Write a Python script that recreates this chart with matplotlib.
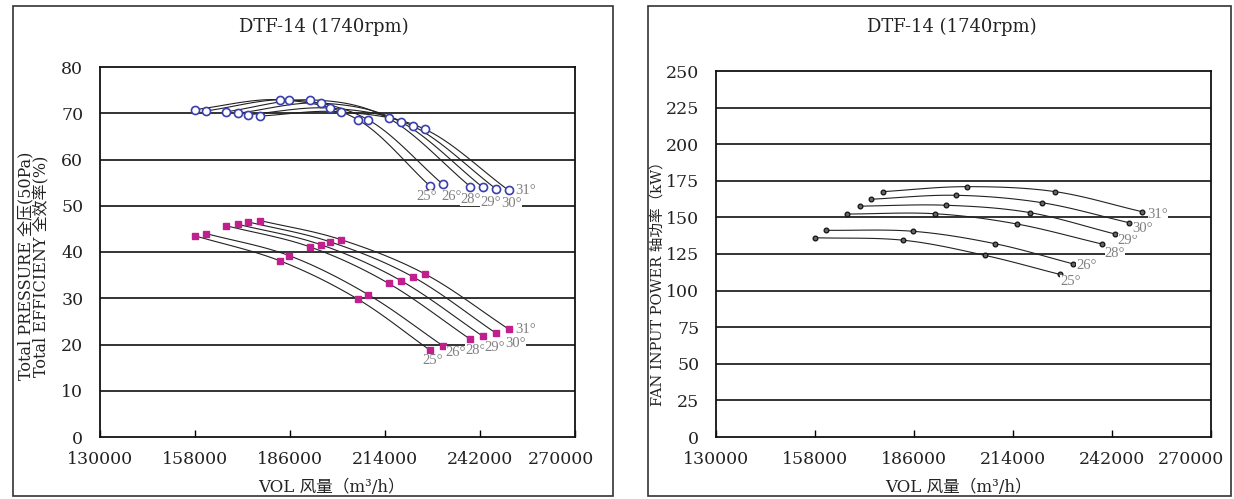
import numpy as np
import matplotlib
matplotlib.use("Agg")
import matplotlib.pyplot as plt
from matplotlib.patches import Rectangle
from matplotlib.transforms import ScaledTranslation

# ---------------- data ----------------
angles = ["25°", "26°", "28°", "29°", "30°", "31°"]
flow = {
    "25°": [158000, 183000, 206000, 227200],
    "26°": [161200, 185800, 209000, 231100],
    "28°": [167100, 191900, 215100, 239200],
    "29°": [170600, 195000, 218700, 242800],
    "30°": [173700, 197800, 222300, 246800],
    "31°": [177200, 200900, 225900, 250500],
}
efficiency = {
    "25°": [70.8, 72.9, 68.6, 54.3],
    "26°": [70.5, 72.9, 68.6, 54.6],
    "28°": [70.3, 72.9, 68.9, 54.1],
    "29°": [70.0, 72.2, 68.1, 54.0],
    "30°": [69.7, 71.1, 67.2, 53.6],
    "31°": [69.4, 70.3, 66.5, 53.3],
}
pressure = {
    "25°": [43.5, 38.1, 29.8, 18.8],
    "26°": [44.0, 39.2, 30.8, 19.7],
    "28°": [45.7, 41.1, 33.2, 21.1],
    "29°": [46.0, 41.6, 33.8, 21.8],
    "30°": [46.5, 42.2, 34.6, 22.4],
    "31°": [46.8, 42.7, 35.2, 23.3],
}
power = {
    "25°": [136.1, 134.4, 124.1, 111.1],
    "26°": [141.2, 140.5, 132.0, 118.2],
    "28°": [152.3, 152.5, 145.5, 131.8],
    "29°": [157.7, 158.3, 153.3, 138.7],
    "30°": [162.4, 165.1, 160.0, 146.4],
    "31°": [167.6, 171.0, 167.6, 153.9],
}
x_ticks = [130000, 158000, 186000, 214000, 242000, 270000]
left_yticks = list(range(0, 81, 10))
right_yticks = list(range(0, 251, 25))
title = "DTF-14 (1740rpm)"
xlabel = "VOL 风量（m³/h）"
left_ylabel1 = "Total PRESSURE 全压(50Pa)"
left_ylabel2 = "Total EFFICIENY 全效率(%)"
right_ylabel = "FAN INPUT POWER 轴功率（kW）"

# label offsets in pixels (dx, dy) relative to the last point of each curve
eff_off = {"25°": (-3, -11), "26°": (9, -12), "28°": (0, -13), "29°": (8, -15), "30°": (15, -14), "31°": (17, 0)}
prs_off = {"25°": (3, -10), "26°": (13, -7), "28°": (5, -11), "29°": (12, -11), "30°": (19, -10), "31°": (17, 0)}
pwr_off = {"25°": (11, -7), "26°": (13, -2), "28°": (13, -9), "29°": (13, -7), "30°": (14, -6), "31°": (16, -3)}

FAM = ["DejaVu Serif", "Noto Sans CJK SC"]
TXT = "#222222"
LBL = "#808080"


def smooth(ax, xs, ys, n=30):
    """Catmull-Rom rendering through the data points, done in display space."""
    pts = ax.transData.transform(np.column_stack([xs, ys]))
    p = np.vstack([2 * pts[0] - pts[1], pts, 2 * pts[-1] - pts[-2]])
    out = []
    for i in range(1, len(p) - 2):
        p0, p1, p2, p3 = p[i - 1], p[i], p[i + 1], p[i + 2]
        t = np.linspace(0, 1, n)[:, None]
        c = 0.5 * ((2 * p1) + (-p0 + p2) * t + (2 * p0 - 5 * p1 + 4 * p2 - p3) * t ** 2
                   + (-p0 + 3 * p1 - 3 * p2 + p3) * t ** 3)
        out.append(c if i == 1 else c[1:])
    out = np.vstack(out)
    return ax.transData.inverted().transform(out)


fig = plt.figure(figsize=(12.34, 4.99), dpi=100)

# panel frames
for (x0, y0, x1, y1) in [(13, 6, 613, 496), (648, 6, 1231, 496)]:
    fig.patches.append(Rectangle((x0 / 1234, 1 - y1 / 499), (x1 - x0) / 1234, (y1 - y0) / 499,
                                 transform=fig.transFigure, fill=False, edgecolor="#333333", lw=1.2))

axL = fig.add_axes([100 / 1234, 1 - 437 / 499, 475 / 1234, 370 / 499])
axR = fig.add_axes([716 / 1234, 1 - 437 / 499, 495 / 1234, 366 / 499])


def style(ax, yticks, last_shift):
    ax.set_xlim(x_ticks[0], x_ticks[-1])
    ax.set_ylim(yticks[0], yticks[-1])
    ax.set_xticks(x_ticks)
    ax.set_yticks(yticks)
    ax.set_xticklabels([str(v) for v in x_ticks], fontfamily="DejaVu Serif", fontsize=12.5, color=TXT)
    ax.set_yticklabels([str(v) for v in yticks], fontfamily="DejaVu Serif", fontsize=12.5, color=TXT)
    ax.tick_params(axis="x", direction="in", length=5, width=1, pad=10, top=False)
    ax.tick_params(axis="y", length=0, pad=12)
    last = ax.get_xticklabels()[-1]
    last.set_transform(last.get_transform() + ScaledTranslation(last_shift / 100, 0, fig.dpi_scale_trans))
    for y in yticks[1:-1]:
        ax.axhline(y, color="#111111", lw=1.2, zorder=1)
    for s in ax.spines.values():
        s.set_color("#111111")
        s.set_linewidth(1.3)


style(axL, left_yticks, -14)
style(axR, right_yticks, -20)
fig.canvas.draw()


def angle_label(ax, a, x, y, off):
    ax.annotate(a, (x, y), xytext=off, textcoords="offset pixels",
                ha="center", va="center", fontsize=10.5, color=LBL, family="Liberation Serif",
                bbox=dict(facecolor="white", edgecolor="none", pad=0), zorder=5)


for a in angles:
    xs, ys = flow[a], efficiency[a]
    c = smooth(axL, xs, ys)
    axL.plot(c[:, 0], c[:, 1], color="#222222", lw=0.8, zorder=3)
    axL.plot(xs, ys, ls="none", marker="o", ms=5.8, mfc="white", mec="#3a3fae", mew=1.2, zorder=4)
    angle_label(axL, a, xs[-1], ys[-1], eff_off[a])

    ys = pressure[a]
    c = smooth(axL, xs, ys)
    axL.plot(c[:, 0], c[:, 1], color="#222222", lw=0.8, zorder=3)
    axL.plot(xs, ys, ls="none", marker="s", ms=3.8, mfc="#c0208e", mec="#c0208e", zorder=4)
    angle_label(axL, a, xs[-1], ys[-1], prs_off[a])

    ys = power[a]
    c = smooth(axR, xs, ys)
    axR.plot(c[:, 0], c[:, 1], color="#222222", lw=0.8, zorder=3)
    axR.plot(xs, ys, ls="none", marker="o", ms=3.4, mfc="#666666", mec="#111111", mew=0.9, zorder=4)
    angle_label(axR, a, xs[-1], ys[-1], pwr_off[a])

# titles
fig.text(324 / 1234, 1 - 27 / 499, title, ha="center", va="center", fontsize=13,
         family="DejaVu Serif", color=TXT)
fig.text(952 / 1234, 1 - 27 / 499, title, ha="center", va="center", fontsize=13,
         family="DejaVu Serif", color=TXT)

# x labels
fig.text(331 / 1234, 1 - 487 / 499, xlabel, ha="center", va="center", fontsize=12,
         family=FAM, color=TXT)
fig.text(958 / 1234, 1 - 487 / 499, xlabel, ha="center", va="center", fontsize=12,
         family=FAM, color=TXT)

# y labels
fig.text(26 / 1234, 1 - 266 / 499, left_ylabel1, ha="center", va="center", rotation=90,
         fontsize=11.5, family=FAM, color=TXT)
fig.text(42 / 1234, 1 - 266 / 499, left_ylabel2, ha="center", va="center", rotation=90,
         fontsize=11.5, family=FAM, color=TXT)
fig.text(658 / 1234, 1 - 280 / 499, right_ylabel, ha="center", va="center", rotation=90,
         fontsize=10.5, family=FAM, color=TXT)

fig.savefig("out.png", dpi=100)
